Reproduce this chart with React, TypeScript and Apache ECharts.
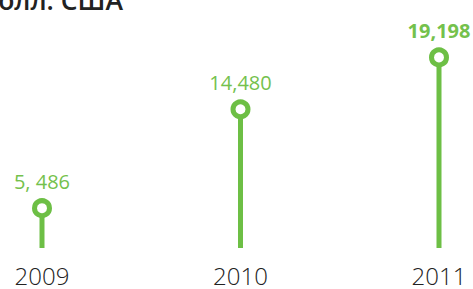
import React, { useEffect, useRef } from "react";
import * as echarts from "echarts";

const years = ["2009", "2010", "2011"];
const values = [5486, 14480, 19198];
const valueLabels = ["5, 486", "14,480", "19,198"];
const unitTitle = "млн. долл. США";

const GREEN = "#6dbf45";
const LABEL_GREEN = "#74c14c";
const Y_MIN = 1865;
const Y_MAX = 20000;

export default function App() {
  const ref = useRef<HTMLDivElement>(null);
  useEffect(() => {
    if (!ref.current) return;
    const chart = echarts.init(ref.current, undefined, { renderer: "svg" });
    const lastIdx = values.length - 1;
    chart.setOption({
      animation: false,
      backgroundColor: "#ffffff",
      grid: { left: 42, right: 34, top: 48.6, bottom: 41, containLabel: false },
      xAxis: {
        type: "category",
        data: years,
        boundaryGap: false,
        axisLine: { show: false },
        axisTick: { show: false },
        splitLine: { show: false },
        axisLabel: {
          color: "#222222",
          fontSize: 24,
          fontWeight: 300,
          lineHeight: 18,
          fontFamily: "Open Sans",
          verticalAlign: "middle",
          margin: 27.5,
        },
      },
      yAxis: {
        type: "value",
        min: Y_MIN,
        max: Y_MAX,
        show: false,
        splitLine: { show: false },
      },
      graphic: [
        {
          type: "text",
          x: 123,
          y: -0.5,
          style: {
            text: unitTitle,
            textAlign: "right",
            textVerticalAlign: "middle",
            fill: "#222222",
            font: "600 26.5px 'Open Sans'",
          },
        },
      ],
      series: [
        {
          type: "custom",
          data: values.map((v, i) => [i, v]),
          renderItem: (params: any, api: any) => {
            const idx = api.value(0);
            const val = api.value(1);
            const top = api.coord([idx, val]);
            const bottom = api.coord([idx, Y_MIN]);
            const bold = params.dataIndex === lastIdx;
            return {
              type: "group",
              children: [
                {
                  type: "line",
                  shape: { x1: bottom[0], y1: bottom[1], x2: top[0], y2: top[1] },
                  style: { stroke: GREEN, lineWidth: 5 },
                },
                {
                  type: "circle",
                  shape: { cx: top[0], cy: top[1], r: 7.5 },
                  style: { fill: "#ffffff", stroke: GREEN, lineWidth: 5 },
                },
                {
                  type: "text",
                  x: top[0],
                  y: top[1] - 27,
                  style: {
                    text: valueLabels[params.dataIndex],
                    textAlign: "center",
                    textVerticalAlign: "middle",
                    fill: LABEL_GREEN,
                    font: (bold ? "bold " : "") + "20px 'Open Sans'",
                  },
                },
              ],
            };
          },
        },
      ],
    });
    return () => chart.dispose();
  }, []);
  return (
    <div
      ref={ref}
      style={{ position: "fixed", left: 0, top: 0, width: 473, height: 289 }}
    />
  );
}
